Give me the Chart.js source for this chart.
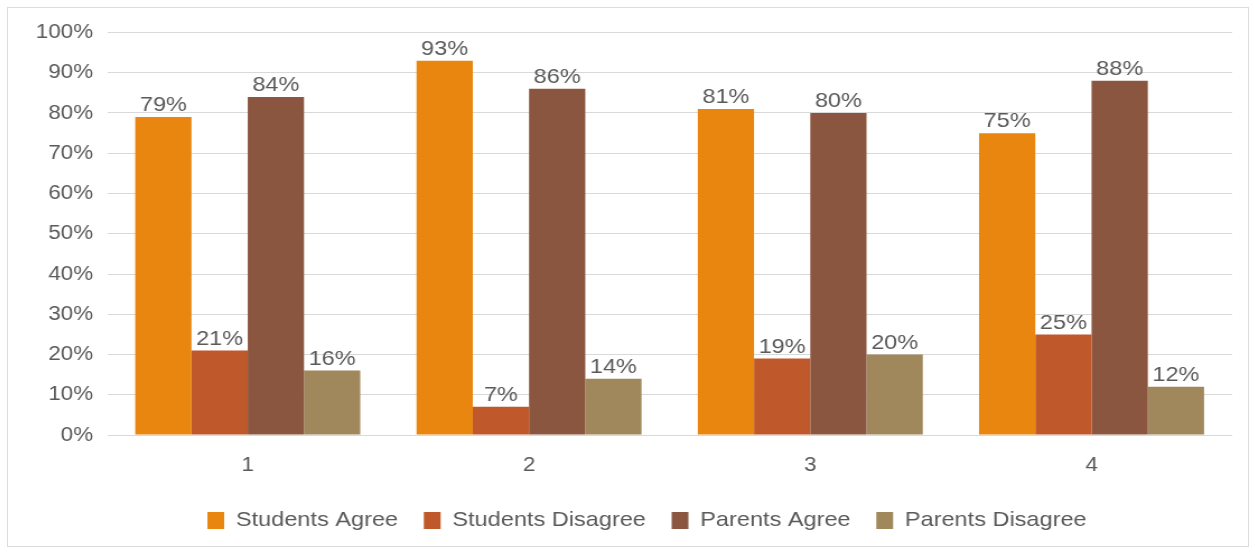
<!DOCTYPE html>
<html lang="en">
<head>
  <meta charset="UTF-8" />
  <title>Students and Parents Agree / Disagree</title>
  <script src="https://cdn.jsdelivr.net/npm/chart.js"></script>
  <style>
    body {
      margin: 0;
      background: #ffffff;
      font-family: "Liberation Sans", Arial, sans-serif;
    }

    .frame {
      position: absolute;
      left: 7px;
      top: 7px;
      width: 1240px;
      height: 538px;
      border: 1px solid #dcdcdc;
      background: #fff;
      overflow: hidden;
    }

    /* the original picture is slightly wider than tall, stretch horizontally */
    #chart {
      transform: scaleX(1.12);
      transform-origin: left top;
    }
  </style>
</head>
<body>
  <div class="frame">
    <canvas id="chart" width="1107" height="538"></canvas>
  </div>

  <script>
    // === Data ===
    const categories = ["1", "2", "3", "4"];
    const studentsAgree = [79, 93, 81, 75];
    const studentsDisagree = [21, 7, 19, 25];
    const parentsAgree = [84, 86, 80, 88];
    const parentsDisagree = [16, 14, 20, 12];
    const yTicks = [0, 10, 20, 30, 40, 50, 60, 70, 80, 90, 100];

    const textColor = "#5a5a5a";
    const fontFamily = "'Liberation Sans', Arial, sans-serif";

    // === Value labels above each bar ===
    const valueLabels = {
      id: "valueLabels",
      afterDatasetsDraw(chart) {
        const ctx = chart.ctx;
        ctx.save();
        ctx.font = "21px " + fontFamily;
        ctx.fillStyle = textColor;
        ctx.textAlign = "center";
        ctx.textBaseline = "bottom";
        chart.data.datasets.forEach((ds, i) => {
          const meta = chart.getDatasetMeta(i);
          meta.data.forEach((bar, j) => {
            ctx.fillText(ds.data[j] + "%", bar.x, bar.y - 1);
          });
        });
        ctx.restore();
      }
    };

    // === Legend sits a little right of the canvas centre ===
    const legendShift = {
      id: "legendShift",
      afterLayout(chart) {
        chart.legend.left += 24;
        chart.legend.right += 24;
      }
    };

    const ctx = document.getElementById("chart").getContext("2d");
    new Chart(ctx, {
      type: "bar",
      data: {
        labels: categories,
        datasets: [
          { label: "Students Agree", data: studentsAgree, backgroundColor: "#E8860F" },
          { label: "Students Disagree", data: studentsDisagree, backgroundColor: "#BF592B" },
          { label: "Parents Agree", data: parentsAgree, backgroundColor: "#8A5640" },
          { label: "Parents Disagree", data: parentsDisagree, backgroundColor: "#A0885C" }
        ]
      },
      options: {
        responsive: false,
        animation: false,
        layout: {
          padding: { top: 21, right: 14, bottom: 5, left: 0 }
        },
        datasets: {
          bar: { categoryPercentage: 0.8, barPercentage: 1.0 }
        },
        plugins: {
          legend: {
            position: "bottom",
            labels: {
              color: textColor,
              font: { family: fontFamily, size: 21 },
              boxWidth: 15,
              boxHeight: 17,
              padding: 23,
              useBorderRadius: false
            }
          },
          tooltip: { enabled: false }
        },
        scales: {
          x: {
            grid: { display: false },
            border: { display: false },
            ticks: {
              color: textColor,
              font: { family: fontFamily, size: 20 },
              padding: 10
            }
          },
          y: {
            min: 0,
            max: 100,
            afterFit(scale) { scale.width = 88.5; },
            afterBuildTicks(scale) {
              scale.ticks = yTicks.map(v => ({ value: v }));
            },
            grid: { color: "#d9d9d9", drawTicks: false },
            border: { display: false },
            ticks: {
              color: textColor,
              font: { family: fontFamily, size: 20 },
              padding: 12.5,
              callback: v => v + "%"
            }
          }
        }
      },
      plugins: [valueLabels, legendShift]
    });
  </script>
</body>
</html>
